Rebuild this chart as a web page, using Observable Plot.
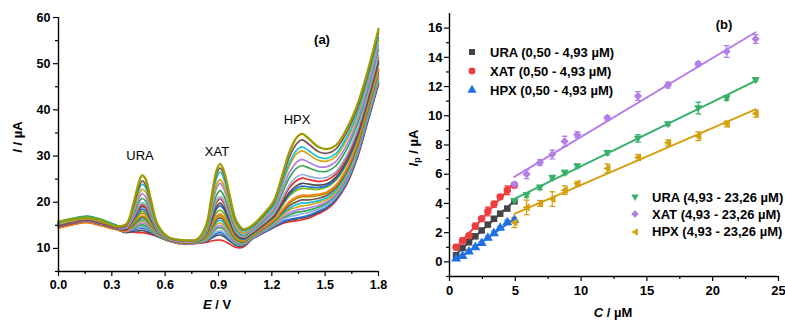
<!DOCTYPE html>
<html><head><meta charset="utf-8">
<script src="https://cdn.jsdelivr.net/npm/d3@7"></script>
<script src="https://cdn.jsdelivr.net/npm/@observablehq/plot@0.6"></script>
<style>
body{margin:0;background:#fff;font-family:"Liberation Sans",Arial,sans-serif;}
#wrap{position:relative;width:785px;height:321px;overflow:hidden;background:#fff;}
.abs{position:absolute;white-space:nowrap;line-height:1;color:#000;}
</style></head><body>
<div id="wrap"></div>
<script>
// ---------- Panel (a): voltammograms ----------
const potential = [0.00,0.08,0.16,0.24,0.32,0.38,0.42,0.45,0.47,0.49,0.52,0.56,0.62,0.70,0.78,0.83,0.86,0.89,0.91,0.93,0.96,1.00,1.04,1.09,1.15,1.21,1.26,1.30,1.34,1.37,1.41,1.46,1.51,1.56,1.62,1.68,1.74,1.80];
const scan00 = [15.4,16.1,16.6,15.9,14.8,13.8,13.5,13.4,13.4,13.3,13.0,12.5,11.6,11.1,11.1,11.3,11.6,11.8,11.8,11.6,11.0,10.2,10.3,12.0,13.3,14.5,15.4,15.8,16.0,16.2,16.6,17.5,18.5,20.3,23.8,29.5,37.5,45.5];
const scan01 = [14.5,15.2,15.7,15.0,14.2,13.4,13.7,13.8,13.9,13.7,13.3,12.6,11.6,10.9,11.2,11.5,12.2,12.8,12.9,12.6,11.7,10.6,10.6,12.1,13.4,14.6,15.6,16.1,16.4,16.6,17.0,17.8,18.8,20.6,24.1,29.8,37.7,45.8];
const scan02 = [15.6,16.3,16.8,16.1,15.0,14.0,14.0,14.3,14.4,14.2,13.6,12.7,11.7,11.2,11.2,11.7,12.5,13.2,13.4,13.0,12.1,10.8,10.7,12.1,13.4,14.7,15.8,16.3,16.6,16.8,17.2,18.0,18.9,20.7,24.2,29.9,37.9,45.9];
const scan03 = [14.9,15.6,16.1,15.4,14.5,13.7,14.2,14.5,14.7,14.6,13.8,12.8,11.7,11.0,11.2,11.7,12.7,13.6,13.8,13.4,12.3,10.9,10.8,12.2,13.6,14.9,16.1,16.9,17.2,17.5,17.8,18.5,19.4,21.1,24.6,30.3,38.3,46.3];
const scan04 = [15.8,16.5,17.0,16.3,15.1,14.2,14.3,14.9,15.1,14.9,14.0,12.9,11.7,11.3,11.2,11.9,13.1,14.3,14.5,14.1,12.8,11.1,10.9,12.3,13.7,15.1,16.5,17.3,17.8,18.0,18.3,18.9,19.8,21.5,25.0,30.6,38.6,46.7];
const scan05 = [14.6,15.3,15.8,15.1,14.3,13.6,14.5,15.2,15.5,15.3,14.3,12.9,11.7,11.0,11.3,12.0,13.4,14.7,15.0,14.5,13.1,11.3,11.1,12.4,13.8,15.2,16.7,17.7,18.3,18.5,18.8,19.3,20.1,21.8,25.3,31.0,38.9,47.0];
const scan06 = [15.3,16.0,16.5,15.8,14.7,14.0,14.7,15.6,15.9,15.7,14.5,13.0,11.8,11.2,11.3,12.1,13.7,15.2,15.5,15.0,13.5,11.5,11.2,12.5,14.0,15.4,17.1,18.3,18.9,19.2,19.4,19.9,20.6,22.2,25.7,31.4,39.3,47.4];
const scan07 = [15.7,16.4,16.9,16.2,15.0,14.3,14.9,15.9,16.3,16.1,14.8,13.1,11.8,11.4,11.3,12.3,14.0,15.7,16.1,15.5,13.9,11.7,11.3,12.6,14.1,15.6,17.5,18.7,19.5,19.8,19.9,20.3,21.0,22.6,26.1,31.7,39.6,47.8];
const scan08 = [14.8,15.5,16.0,15.3,14.4,13.9,15.1,16.2,16.7,16.4,15.0,13.2,11.8,11.1,11.4,12.4,14.3,16.2,16.6,16.0,14.2,11.9,11.4,12.7,14.2,15.8,17.8,19.3,20.1,20.5,20.5,20.8,21.5,23.1,26.6,32.1,40.0,48.3];
const scan09 = [15.5,16.2,16.7,16.0,14.9,14.3,15.3,16.5,17.0,16.7,15.2,13.2,11.8,11.4,11.4,12.5,14.6,16.7,17.1,16.5,14.5,12.1,11.6,12.8,14.4,16.0,18.2,19.8,20.8,21.2,21.2,21.4,22.0,23.5,27.0,32.6,40.4,48.7];
const scan10 = [14.4,15.1,15.6,14.9,14.1,13.8,15.5,17.0,17.6,17.2,15.5,13.3,11.9,11.1,11.4,12.6,14.8,17.0,17.5,16.8,14.8,12.2,11.6,12.9,14.4,16.1,18.4,20.2,21.2,21.5,21.5,21.7,22.2,23.7,27.2,32.8,40.7,48.9];
const scan11 = [15.2,15.9,16.4,15.7,14.7,14.2,15.7,17.3,18.0,17.6,15.8,13.4,11.9,11.3,11.5,12.8,15.3,17.8,18.3,17.6,15.3,12.5,11.8,13.1,14.8,16.6,19.3,21.4,22.6,23.0,22.9,22.8,23.3,24.7,28.2,33.7,41.5,49.9];
const scan12 = [15.6,16.3,16.8,16.1,15.0,14.5,16.0,17.7,18.5,18.1,16.1,13.5,11.9,11.5,11.5,13.0,15.8,18.6,19.2,18.4,15.9,12.8,12.0,13.2,14.9,16.8,19.6,21.8,23.1,23.5,23.3,23.2,23.6,25.0,28.5,34.0,41.8,50.2];
const scan13 = [14.7,15.4,15.9,15.2,14.3,14.1,16.3,18.3,19.1,18.7,16.5,13.7,12.0,11.3,11.5,13.1,16.1,19.1,19.8,18.9,16.3,13.0,12.2,13.3,15.0,16.9,19.9,22.2,23.6,24.1,23.9,23.7,24.0,25.4,28.9,34.4,42.2,50.6];
const scan14 = [15.4,16.1,16.6,15.9,14.8,14.5,16.4,18.6,19.5,19.0,16.7,13.7,12.0,11.5,11.6,13.3,16.7,20.0,20.7,19.8,17.0,13.3,12.4,13.5,15.2,17.3,20.5,23.2,24.7,25.2,24.9,24.5,24.8,26.1,29.6,35.1,42.8,51.3];
const scan15 = [15.0,15.7,16.2,15.5,14.5,14.4,16.7,19.0,19.9,19.5,17.0,13.8,12.0,11.4,11.6,13.4,17.0,20.5,21.2,20.3,17.3,13.5,12.5,13.6,15.4,17.5,21.0,23.8,25.5,26.0,25.6,25.2,25.4,26.6,30.1,35.6,43.3,51.8];
const scan16 = [15.7,16.4,16.9,16.2,15.0,14.9,17.1,19.8,20.8,20.3,17.5,14.0,12.1,11.7,11.7,13.7,17.7,21.6,22.5,21.4,18.1,14.0,12.8,13.9,15.8,18.1,22.1,25.4,27.4,27.9,27.4,26.7,26.7,27.9,31.4,36.8,44.4,53.1];
const scan17 = [14.8,15.5,16.0,15.3,14.4,14.5,17.6,20.6,21.8,21.2,18.1,14.2,12.1,11.5,11.8,14.1,18.6,23.1,24.1,22.9,19.2,14.5,13.2,14.1,16.1,18.5,22.9,26.5,28.7,29.3,28.6,27.7,27.7,28.8,32.3,37.6,45.2,54.0];
const scan18 = [15.3,16.0,16.5,15.8,14.7,14.9,18.1,21.4,22.8,22.2,18.7,14.4,12.2,11.7,11.8,14.2,19.1,23.9,24.9,23.7,19.7,14.8,13.4,14.4,16.5,19.1,23.9,28.0,30.5,31.1,30.3,29.1,28.9,29.9,33.4,38.7,46.3,55.1];
const scan19 = [15.5,16.2,16.7,16.0,14.9,15.2,18.6,22.4,23.9,23.2,19.3,14.6,12.3,11.8,11.9,14.6,20.0,25.3,26.5,25.1,20.8,15.4,13.8,14.5,16.7,19.3,24.4,28.7,31.3,32.0,31.1,29.8,29.5,30.5,34.0,39.2,46.8,55.7];
const scan20 = [14.9,15.6,16.1,15.4,14.5,14.9,18.9,22.9,24.6,23.8,19.8,14.8,12.3,11.7,12.0,14.8,20.5,26.2,27.4,26.0,21.4,15.7,14.0,14.8,17.0,19.8,25.3,29.9,32.7,33.5,32.5,31.0,30.6,31.5,35.0,40.2,47.7,56.7];
const scan21 = [15.8,16.3,16.6,16.0,14.8,15.2,19.5,24.0,25.8,25.0,20.5,15.0,12.4,11.8,12.0,15.0,21.0,27.0,28.3,26.8,22.0,16.0,14.2,15.0,17.3,20.2,26.0,31.0,34.0,34.8,33.7,32.0,31.5,32.3,35.8,41.0,48.5,57.5];
const scans = [scan00,scan01,scan02,scan03,scan04,scan05,scan06,scan07,scan08,scan09,scan10,scan11,scan12,scan13,scan14,scan15,scan16,scan17,scan18,scan19,scan20,scan21];
const scanColors = ["#e8302c","#4d4d4d","#2271e3","#8fb0dc","#33a852","#b27ee8","#d6a514","#17c3cf","#7b5652","#9c9c00","#ff7a0e","#78b800","#2271e3","#4d4d4d","#e8302c","#8fb0dc","#33a852","#b27ee8","#d6a514","#17c3cf","#7b5652","#9c9c00"];
const eTicks = [0, 0.3, 0.6, 0.9, 1.2, 1.5, 1.8];
const eMinor = [0.15, 0.45, 0.75, 1.05, 1.35, 1.65];
const iTicks = [10, 20, 30, 40, 50, 60];
const iMinor = [5, 15, 25, 35, 45, 55];
const peakNames = ["URA", "XAT", "HPX"];

// ---------- Panel (b): calibration ----------
const concLow = [0.50, 0.99, 1.48, 1.96, 2.44, 2.91, 3.38, 3.85, 4.39, 4.93];
const uraLow = [0.45, 0.95, 1.35, 1.75, 2.15, 2.55, 2.95, 3.30, 3.65, 4.15];
const xatLow = [1.00, 1.45, 1.80, 2.45, 2.95, 3.45, 3.95, 4.45, 4.90, 5.25];
const hpxLow = [0.22, 0.40, 0.70, 1.00, 1.28, 1.64, 1.96, 2.32, 2.70, 2.85];
const uraLowSd = [0.15, 0.10, 0.12, 0.10, 0.12, 0.10, 0.10, 0.10, 0.12, 0.15];
const xatLowSd = [0.15, 0.20, 0.15, 0.20, 0.15, 0.30, 0.20, 0.15, 0.30, 0.15];
const hpxLowSd = [0.10, 0.10, 0.12, 0.10, 0.10, 0.12, 0.15, 0.10, 0.15, 0.15];
const concHigh = [4.93, 5.86, 6.87, 7.81, 8.75, 9.71, 11.99, 14.32, 16.60, 18.90, 21.06, 23.26];
const uraHigh = [4.18, 4.57, 5.09, 5.77, 6.11, 6.56, 7.47, 8.45, 9.44, 10.53, 11.21, 12.46];
const xatHigh = [5.30, 6.00, 6.80, 7.35, 8.25, 8.70, 9.85, 11.35, 12.10, 13.55, 14.40, 15.25];
const hpxHigh = [2.70, 3.73, 4.00, 4.30, 4.91, 5.36, 6.40, 7.15, 8.15, 8.60, 9.44, 10.15];
const uraHighSd = [0.15, 0.15, 0.15, 0.12, 0.15, 0.12, 0.15, 0.25, 0.12, 0.40, 0.15, 0.10];
const xatHighSd = [0.15, 0.30, 0.20, 0.30, 0.35, 0.20, 0.15, 0.30, 0.20, 0.15, 0.40, 0.30];
const hpxHighSd = [0.35, 0.50, 0.20, 0.50, 0.30, 0.15, 0.30, 0.20, 0.20, 0.30, 0.20, 0.25];
const seriesLabels = ["URA (0,50 - 4,93 µM)", "XAT (0,50 - 4,93 µM)", "HPX (0,50 - 4,93 µM)",
                      "URA (4,93 - 23,26 µM)", "XAT (4,93 - 23,26 µM)", "HPX (4,93 - 23,26 µM)"];
const seriesColors = ["#444444", "#f03c3c", "#2070e6", "#38b06a", "#b47ee8", "#d4a010"];
const cTicks = [0, 5, 10, 15, 20, 25];
const cMinor = [2.5, 7.5, 12.5, 17.5, 22.5];
const ipTicks = [0, 2, 4, 6, 8, 10, 12, 14, 16];
const ipMinor = [-1, 1, 3, 5, 7, 9, 11, 13, 15];

// custom symbols
const triDown = {draw(ctx, size){const s=Math.sqrt(size);ctx.moveTo(-0.62*s,-0.42*s);ctx.lineTo(0.62*s,-0.42*s);ctx.lineTo(0,0.66*s);ctx.closePath();}};
const triLeft = {draw(ctx, size){const s=Math.sqrt(size);ctx.moveTo(-0.62*s,0);ctx.lineTo(0.48*s,-0.62*s);ctx.lineTo(0.48*s,0.62*s);ctx.closePath();}};
const capSym = {draw(ctx, size){const s=Math.sqrt(size);ctx.moveTo(-s/2,0);ctx.lineTo(s/2,0);}};
const seriesSymbols = [d3.symbolSquare, d3.symbolCircle, d3.symbolTriangle, triDown, d3.symbolDiamond2, triLeft];

const FONT = '"Liberation Sans", Arial, sans-serif';
const wrap = document.getElementById("wrap");

// ----- build panel (a)
const lineMarks = scans.map((s, k) => Plot.line(potential, {
  x: d => d, y: (d, i) => s[i], stroke: scanColors[k],
  strokeWidth: k === scans.length - 1 ? 2.3 : 1.7, curve: "catmull-rom"
}));
const plotA = Plot.plot({
  width: 395, height: 321,
  marginLeft: 58, marginRight: 17, marginTop: 17, marginBottom: 50,
  x: {domain: [0, 1.8]},
  y: {domain: [5, 60]},
  style: {fontFamily: FONT, fontSize: "12.5px", fontWeight: "bold", color: "#000", background: "transparent", overflow: "visible"},
  marks: [
    ...lineMarks,
    Plot.ruleX([0], {strokeWidth: 1.4}),
    Plot.ruleY([5], {strokeWidth: 1.4}),
    Plot.axisX({ticks: eTicks, tickSize: 5, tickPadding: 4, tickFormat: d3.format(".1f"), label: null, strokeWidth: 1.2}),
    Plot.axisX({ticks: eMinor, tickSize: 3, tickFormat: () => "", label: null, strokeWidth: 1.2}),
    Plot.axisY({ticks: iTicks, tickSize: 5, tickPadding: 3, label: null, strokeWidth: 1.2}),
    Plot.axisY({ticks: iMinor, tickSize: 3, tickFormat: () => "", label: null, strokeWidth: 1.2})
  ]
});

// ----- build panel (b)
function rows(conc, vals, sd){ return conc.map((c, i) => ({c, v: vals[i], e: sd[i]})); }
const series = [
  rows(concLow, uraLow, uraLowSd), rows(concLow, xatLow, xatLowSd), rows(concLow, hpxLow, hpxLowSd),
  rows(concHigh, uraHigh, uraHighSd), rows(concHigh, xatHigh, xatHighSd), rows(concHigh, hpxHigh, hpxHighSd)
];
const fitMarks = series.map((r, j) => Plot.linearRegressionY(r, {x: "c", y: "v", stroke: seriesColors[j], strokeWidth: 2, ci: 0}));
const errMarks = series.flatMap((r, j) => [
  Plot.ruleX(r, {x: "c", y1: d => d.v - d.e, y2: d => d.v + d.e, stroke: seriesColors[j], strokeWidth: 1.3}),
  Plot.dot(r, {x: "c", y: d => d.v - d.e, symbol: capSym, r: 3.2, stroke: seriesColors[j], fill: "none", strokeWidth: 1.3}),
  Plot.dot(r, {x: "c", y: d => d.v + d.e, symbol: capSym, r: 3.2, stroke: seriesColors[j], fill: "none", strokeWidth: 1.3})
]);
const dotMarks = series.map((r, j) => Plot.dot(r, {x: "c", y: "v", symbol: seriesSymbols[j], r: 3.7, fill: seriesColors[j], stroke: "none"}));
const plotB = Plot.plot({
  width: 390, height: 321,
  marginLeft: 54, marginRight: 7, marginTop: 13, marginBottom: 45,
  x: {domain: [0, 25]},
  y: {domain: [-1, 17]},
  style: {fontFamily: FONT, fontSize: "13px", fontWeight: "bold", color: "#000", background: "transparent", overflow: "visible"},
  marks: [
    ...fitMarks, ...errMarks, ...dotMarks,
    Plot.ruleX([0], {strokeWidth: 1.4}),
    Plot.ruleY([-1], {strokeWidth: 1.4}),
    Plot.axisX({ticks: cTicks, tickSize: 5, tickPadding: 4, label: null, strokeWidth: 1.2}),
    Plot.axisX({ticks: cMinor, tickSize: 3, tickFormat: () => "", label: null, strokeWidth: 1.2}),
    Plot.axisY({ticks: ipTicks, tickSize: 5, tickPadding: 2, label: null, strokeWidth: 1.2}),
    Plot.axisY({ticks: ipMinor, tickSize: 3, tickFormat: () => "", label: null, strokeWidth: 1.2})
  ]
});

function place(node, left, top, w){
  const d = document.createElement("div");
  d.style.position = "absolute"; d.style.left = left + "px"; d.style.top = top + "px";
  if (w) d.style.width = w + "px";
  d.appendChild(node); wrap.appendChild(d);
}
place(plotA, 0, 0, 395);
place(plotB, 395, 0, 390);

function addText(html, left, top, css){
  const d = document.createElement("div");
  d.className = "abs"; d.innerHTML = html;
  d.style.left = left + "px"; d.style.top = top + "px";
  d.style.fontFamily = FONT;
  Object.assign(d.style, css || {});
  wrap.appendChild(d);
}
const center = {transform: "translateX(-50%)"};
// panel tags
addText("(a)", 322, 33, {...center, fontSize: "13px", fontWeight: "bold"});
addText("(b)", 724, 18, {...center, fontSize: "13px", fontWeight: "bold"});
// peak names
addText(peakNames[0], 140, 149, {...center, fontSize: "13px"});
addText(peakNames[1], 217, 145, {...center, fontSize: "13px"});
addText(peakNames[2], 297, 113, {...center, fontSize: "13px"});
// axis titles
addText("<i>E</i> / V", 217, 298, {...center, fontSize: "13px", fontWeight: "bold"});
addText("<i>C</i> / µM", 613, 306, {...center, fontSize: "13px", fontWeight: "bold"});
addText("<i>I</i> / µA", 17, 137, {transform: "translate(-50%,-50%) rotate(-90deg)", fontSize: "13px", fontWeight: "bold"});
addText("<i>I</i><sub style='font-size:9px;vertical-align:-2px'>p</sub> / µA", 414, 148, {transform: "translate(-50%,-50%) rotate(-90deg)", fontSize: "13px", fontWeight: "bold"});

// legends
function legendRow(j, cx, cy, tx){
  const path = d3.symbol(seriesSymbols[j], 3.4 * 3.4 * Math.PI)();
  const svg = `<svg width="16" height="16" style="display:block"><path transform="translate(8,8)" d="${path}" fill="${seriesColors[j]}"/></svg>`;
  addText(svg, cx - 8, cy - 8);
  addText(seriesLabels[j], tx, cy - 6.5, {fontSize: "13px", fontWeight: "bold"});
}
legendRow(0, 472, 52, 490);
legendRow(1, 472, 71, 490);
legendRow(2, 472, 90, 490);
legendRow(3, 634.5, 197, 652);
legendRow(4, 634.5, 214, 652);
legendRow(5, 634.5, 231.5, 652);
</script></body></html>
